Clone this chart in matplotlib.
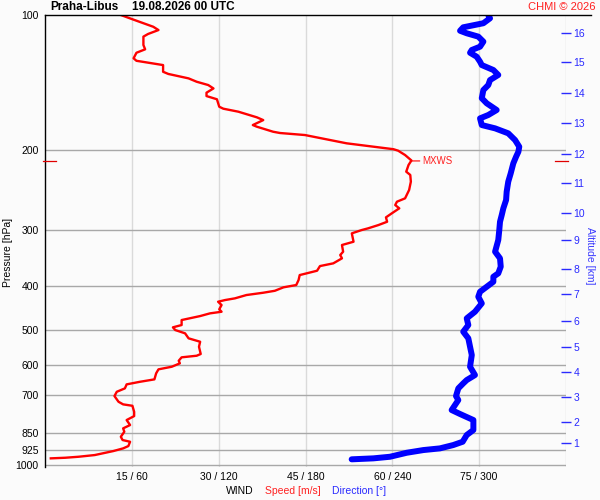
import matplotlib
matplotlib.use("Agg")
import matplotlib.pyplot as plt
from matplotlib.ticker import FixedLocator, NullLocator, FixedFormatter
from matplotlib.lines import Line2D

plt.rcParams['font.family'] = ['Liberation Sans', 'DejaVu Sans']

# ---------------- data ----------------
station = "Praha-Libus"
timestamp = "19.08.2026 00 UTC"

speed_pressure = [100, 102.2, 106.2, 108.0, 110.2, 111.7, 116.6, 119.2, 121.3, 124.8,
                  126.4, 129.2, 133.7, 135.2, 138.3, 140.7, 143.1, 145.6, 148.8, 151.4,
                  153.9, 159.9, 161.5, 164.0, 168.8, 171.2, 175.6, 177.1, 181.7, 182.9,
                  184.8, 192.8, 198.7, 200.2, 204.7, 210.5, 215.4, 222.9, 226.7, 234.6,
                  244.8, 255.5, 259.9, 264.4, 268.9, 275.9, 281.6, 288.0, 292.9, 297.9,
                  300.5, 305.6, 319.0, 324.4, 335.7, 341.4, 347.3, 356.3, 361.3, 370.0,
                  375.0, 378.3, 388.1, 398.1, 402.8, 410.0, 414.1, 419.0, 426.2, 429.9,
                  433.6, 441.0, 450.8, 456.4, 460.2, 466.6, 476.2, 488.5, 494.3, 501.2,
                  509.7, 522.9, 532.1, 545.9, 566.6, 571.6, 576.3, 586.4, 594.3, 604.7,
                  612.8, 625.5, 645.1, 653.1, 661.8, 675.5, 687.3, 702.6, 723.4, 733.1,
                  738.4, 761.5, 778.4, 794.3, 814.9, 828.8, 843.3, 865.2, 879.9, 887.6,
                  907.4, 918.2, 930.9, 950.1, 958.4, 963.3, 966.3]
speed_ms = [13.1, 15.1, 18.7, 19.6, 17.8, 17.0, 17.0, 17.3, 15.8, 15.3,
            15.8, 20.4, 20.4, 21.3, 24.8, 26.2, 28.2, 29.1, 27.9, 27.9,
            29.7, 30.1, 30.8, 33.4, 36.6, 37.7, 35.9, 36.6, 39.4, 40.6,
            44.9, 52.1, 60.2, 61.0, 62.2, 63.3, 62.8, 62.4, 63.1, 63.2,
            62.9, 62.2, 60.8, 60.5, 61.2, 59.9, 58.9, 59.1, 57.6, 55.8,
            54.7, 53.0, 53.3, 51.3, 51.5, 51.0, 51.3, 49.8, 47.5, 47.0,
            45.2, 44.0, 43.8, 43.4, 41.2, 39.7, 37.7, 34.8, 32.8, 31.1,
            29.9, 30.5, 30.1, 30.5, 28.5, 26.8, 23.6, 23.6, 22.1, 22.5,
            24.2, 24.8, 26.8, 26.6, 26.9, 26.2, 23.6, 23.1, 23.3, 21.9,
            19.6, 19.2, 18.9, 16.4, 14.1, 13.8, 12.4, 12.0, 12.7, 13.5,
            15.1, 15.4, 15.4, 14.1, 14.7, 13.5, 13.7, 13.1, 13.4, 14.7,
            14.4, 13.5, 11.8, 8.6, 5.8, 3.5, 1.0]

dir_pressure = [100, 101.7, 104.3, 106.5, 108.4, 109.8, 111.7, 114.6, 117.6, 119.6,
                121.3, 123.8, 127.0, 129.2, 132.5, 135.9, 139.5, 143.1, 146.8, 153.1,
                157.1, 162.6, 166.8, 169.7, 175.6, 178.6, 183.2, 189.6, 196.2, 201.3,
                206.5, 213.6, 224.8, 234.6, 247.0, 257.7, 268.9, 278.3, 288.0, 300.5,
                316.2, 335.7, 347.3, 362.4, 375.0, 381.6, 391.5, 401.7, 412.1, 422.7,
                437.3, 456.4, 472.1, 488.5, 505.5, 522.9, 545.9, 569.6, 604.7, 631.0,
                647.4, 658.4, 675.5, 702.6, 717.1, 754.7, 770.2, 794.3, 835.9, 857.6,
                887.6, 902.7, 918.2, 926.2, 939.1, 958.4, 966.3, 971.1]
direction_deg = [306.3, 307.5, 302.9, 289.0, 286.8, 291.4, 299.4, 302.9, 300.6, 294.9,
                 293.7, 298.3, 300.6, 301.8, 309.8, 313.2, 307.5, 306.3, 302.9, 301.8,
                 305.2, 312.1, 306.3, 300.6, 301.8, 311.0, 320.1, 324.8, 327.7, 327.1,
                 325.5, 323.6, 321.8, 320.1, 319.0, 318.6, 316.7, 315.6, 314.4, 313.9,
                 313.2, 311.0, 314.4, 314.9, 313.2, 309.8, 309.8, 305.2, 300.6, 299.4,
                 301.8, 297.1, 291.4, 292.5, 289.0, 292.5, 293.7, 294.9, 293.7, 297.1,
                 291.4, 289.0, 285.6, 284.0, 285.6, 281.0, 286.8, 296.0, 296.0, 291.4,
                 288.6, 282.1, 272.9, 261.4, 249.9, 238.4, 226.9, 211.9]

mxws_pressure = 211
mxws_speed = 63.3

pressure_ticks = [100, 200, 300, 400, 500, 600, 700, 850, 925, 1000]
speed_ticks = [15, 30, 45, 60, 75, 90]
speed_tick_labels = ["15 / 60", "30 / 120", "45 / 180", "60 / 240", "75 / 300", ""]

altitude_km = [1, 2, 3, 4, 5, 6, 7, 8, 9, 10, 11, 12, 13, 14, 15, 16]
altitude_pressure = [895, 801.7, 705, 621, 547.5, 479, 417.5, 366.7, 316, 275,
                     236.6, 203.3, 174.0, 148.8, 127.4, 109.6]

# ---------------- figure ----------------
bg = '#fbfbfb'
fig = plt.figure(figsize=(6, 5), dpi=100, facecolor=bg)
ax = fig.add_axes([45/600, 1-467/500, 521/600, 452/500], facecolor=bg)

ax.set_yscale('log')
ax.set_ylim(1010, 100)
ax.set_xlim(0, 90)

for p in pressure_ticks[1:]:
    ax.axhline(p, color='#a8a8a8', lw=1.0, zorder=1)
for s in speed_ticks:
    ax.axvline(s, color='#dadada', lw=1.0, zorder=0.9)

ax.yaxis.set_major_locator(FixedLocator(pressure_ticks))
ax.yaxis.set_major_formatter(FixedFormatter([str(p) for p in pressure_ticks]))
ax.yaxis.set_minor_locator(NullLocator())
ax.xaxis.set_major_locator(FixedLocator(speed_ticks))
ax.xaxis.set_major_formatter(FixedFormatter(speed_tick_labels))
ax.tick_params(axis='y', length=0, pad=4.5, labelsize=7.5)
ax.tick_params(axis='x', length=0, pad=3.5, labelsize=7.5)

for side in ['top', 'right', 'bottom']:
    ax.spines[side].set_visible(False)
ax.spines['left'].set_color('black')
ax.spines['left'].set_linewidth(1.0)

# speed profile
ax.plot(speed_ms, speed_pressure, color='#ff0000', lw=1.7, zorder=3,
        solid_joinstyle='round')

# MXWS
ax.annotate('MXWS', xy=(mxws_speed, mxws_pressure), xytext=(8, 0),
            textcoords='offset points', va='center', ha='left', color='#ff2020',
            fontsize=7,
            arrowprops=dict(arrowstyle='-', color='#ff0000', lw=0.8,
                            shrinkA=0, shrinkB=0))
tr = ax.get_yaxis_transform()
ax.plot([-0.004, 0.021], [mxws_pressure]*2, color='#e00000', lw=0.9,
        transform=tr, clip_on=False, zorder=4)
ax.plot([0.979, 1.004], [mxws_pressure]*2, color='#e00000', lw=0.9,
        transform=tr, clip_on=False, zorder=4)

# direction profile
ax2 = ax.twiny()
ax2.set_xlim(0, 360)
ax2.set_ylim(1010, 100)
ax2.plot(direction_deg, dir_pressure, color='#0000ff', lw=4.3, zorder=3,
         solid_capstyle='round', solid_joinstyle='round')
ax2.set_xticks([])
for sp in ax2.spines.values():
    sp.set_visible(False)

# altitude axis
ax3 = ax.twinx()
ax3.set_yscale('log')
ax3.set_ylim(1010, 100)
ax3.yaxis.set_major_locator(FixedLocator(altitude_pressure))
ax3.yaxis.set_major_formatter(FixedFormatter([str(a) for a in altitude_km]))
ax3.yaxis.set_minor_locator(NullLocator())
ax3.tick_params(axis='y', direction='inout', length=7, width=1.0,
                color='#2a2aff', labelcolor='#2a2aff', labelsize=7.5, pad=2)
for sp in ax3.spines.values():
    sp.set_visible(False)

# top border line
fig.add_artist(Line2D([45/600, 591/600], [1-15/500, 1-15/500],
                      color='black', lw=1.0, transform=fig.transFigure))

# texts
fig.text(50/600, 1-7.5/500, station, ha='left', va='center', fontsize=8.5,
         fontweight='bold')
fig.text(132/600, 1-7.5/500, timestamp, ha='left', va='center', fontsize=8.5,
         fontweight='bold')
fig.text(596/600, 1-7.5/500, "CHMI © 2026", ha='right', va='center',
         fontsize=8, color='#ff2020')
fig.text(8/600, 1-252/500, "Pressure [hPa]", rotation=90, ha='center',
         va='center', fontsize=7.5)
fig.text(590/600, 1-256/500, "Altitude [km]", rotation=-90, ha='center',
         va='center', fontsize=7.5, color='#3a3aff')
fig.text(226/600, 1-491/500, "WIND", ha='left', va='center', fontsize=7.5)
fig.text(265/600, 1-491/500, "Speed [m/s]", ha='left', va='center',
         fontsize=7.5, color='#ff2020')
fig.text(332/600, 1-491/500, "Direction [°]", ha='left', va='center',
         fontsize=7.5, color='#2a2aff')

fig.savefig("out.png", dpi=100, facecolor=bg)
